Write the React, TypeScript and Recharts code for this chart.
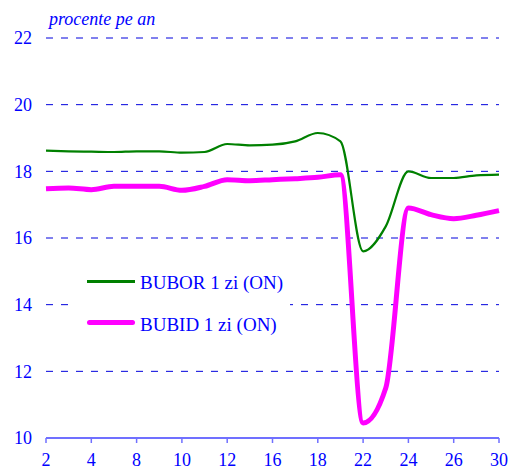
import { LineChart, Line, XAxis, YAxis, CartesianGrid } from "recharts"

// trading days of the month
const days = [2, 3, 4, 5, 8, 9, 10, 11, 12, 15, 16, 17, 18, 19, 22, 23, 24, 25, 26, 29, 30]

const bubor = [
  18.62, 18.6, 18.59, 18.58, 18.6, 18.6, 18.56, 18.58, 18.82, 18.78, 18.8,
  18.9, 19.15, 18.9, 15.6, 16.35, 18.0, 17.8, 17.8, 17.88, 17.9,
]

const bubid = [
  17.48, 17.5, 17.45, 17.55, 17.55, 17.55, 17.43, 17.55, 17.75, 17.72, 17.75,
  17.78, 17.82, 17.9, 10.45, 11.5, 16.9, 16.7, 16.58, 16.68, 16.82,
]

const yTicks = [10, 12, 14, 16, 18, 20, 22]

const data = days.map((d, i) => ({ day: d, bubor: bubor[i], bubid: bubid[i] }))

const font = "'Liberation Serif', 'Times New Roman', serif"
const blue = "#0000ff"

// legend drawn as an overlay so it doesn't eat plot space
function LegendBox() {
  return (
    <div
      style={{
        position: "absolute",
        left: 72,
        top: 262,
        width: 218,
        height: 80,
        background: "#fff",
        fontFamily: font,
        fontSize: 19,
        color: blue,
      }}
    >
      <div style={{ position: "absolute", left: 15, top: 18, width: 48, height: 2.5, background: "#008000" }} />
      <div style={{ position: "absolute", left: 68, top: 11, lineHeight: "20px", whiteSpace: "nowrap" }}>BUBOR 1 zi (ON)</div>
      <div style={{ position: "absolute", left: 15, top: 58, width: 48, height: 5, borderRadius: 3, background: "#ff00ff" }} />
      <div style={{ position: "absolute", left: 68, top: 53, lineHeight: "20px", whiteSpace: "nowrap" }}>BUBID 1 zi (ON)</div>
    </div>
  )
}

export default function App() {
  return (
    <div style={{ position: "absolute", left: 0, top: 0, width: 510, height: 470, background: "#fff" }}>
      <div
        style={{
          position: "absolute",
          left: 49,
          top: 9,
          fontFamily: font,
          fontStyle: "italic",
          fontSize: 18,
          lineHeight: "20px",
          color: blue,
          whiteSpace: "nowrap",
        }}
      >
        procente pe an
      </div>
      <LineChart width={510} height={470} data={data} margin={{ top: 38, right: 11, bottom: 0, left: 0 }}>
        <CartesianGrid vertical={false} stroke="#0000dd" strokeDasharray="7 8" />
        <XAxis
          dataKey="day"
          interval={1}
          height={32}
          stroke="#7070ff"
          axisLine={{ stroke: "#7070ff", strokeWidth: 2 }}
          tickLine={{ stroke: "#7070ff", strokeWidth: 1.5 }}
          tickSize={5}
          tickMargin={10}
          tick={{ fill: blue, fontSize: 18, fontFamily: font }}
        />
        <YAxis
          domain={[10, 22]}
          ticks={yTicks}
          width={46}
          axisLine={false}
          tickLine={false}
          tickSize={0}
          tickMargin={14}
          tick={{ fill: blue, fontSize: 18, fontFamily: font }}
        />
        <Line type="monotone" dataKey="bubor" stroke="#008000" strokeWidth={2.2} dot={false} isAnimationActive={false} />
        <Line type="monotone" dataKey="bubid" stroke="#ff00ff" strokeWidth={5} dot={false} isAnimationActive={false} />
      </LineChart>
      <LegendBox />
    </div>
  )
}
